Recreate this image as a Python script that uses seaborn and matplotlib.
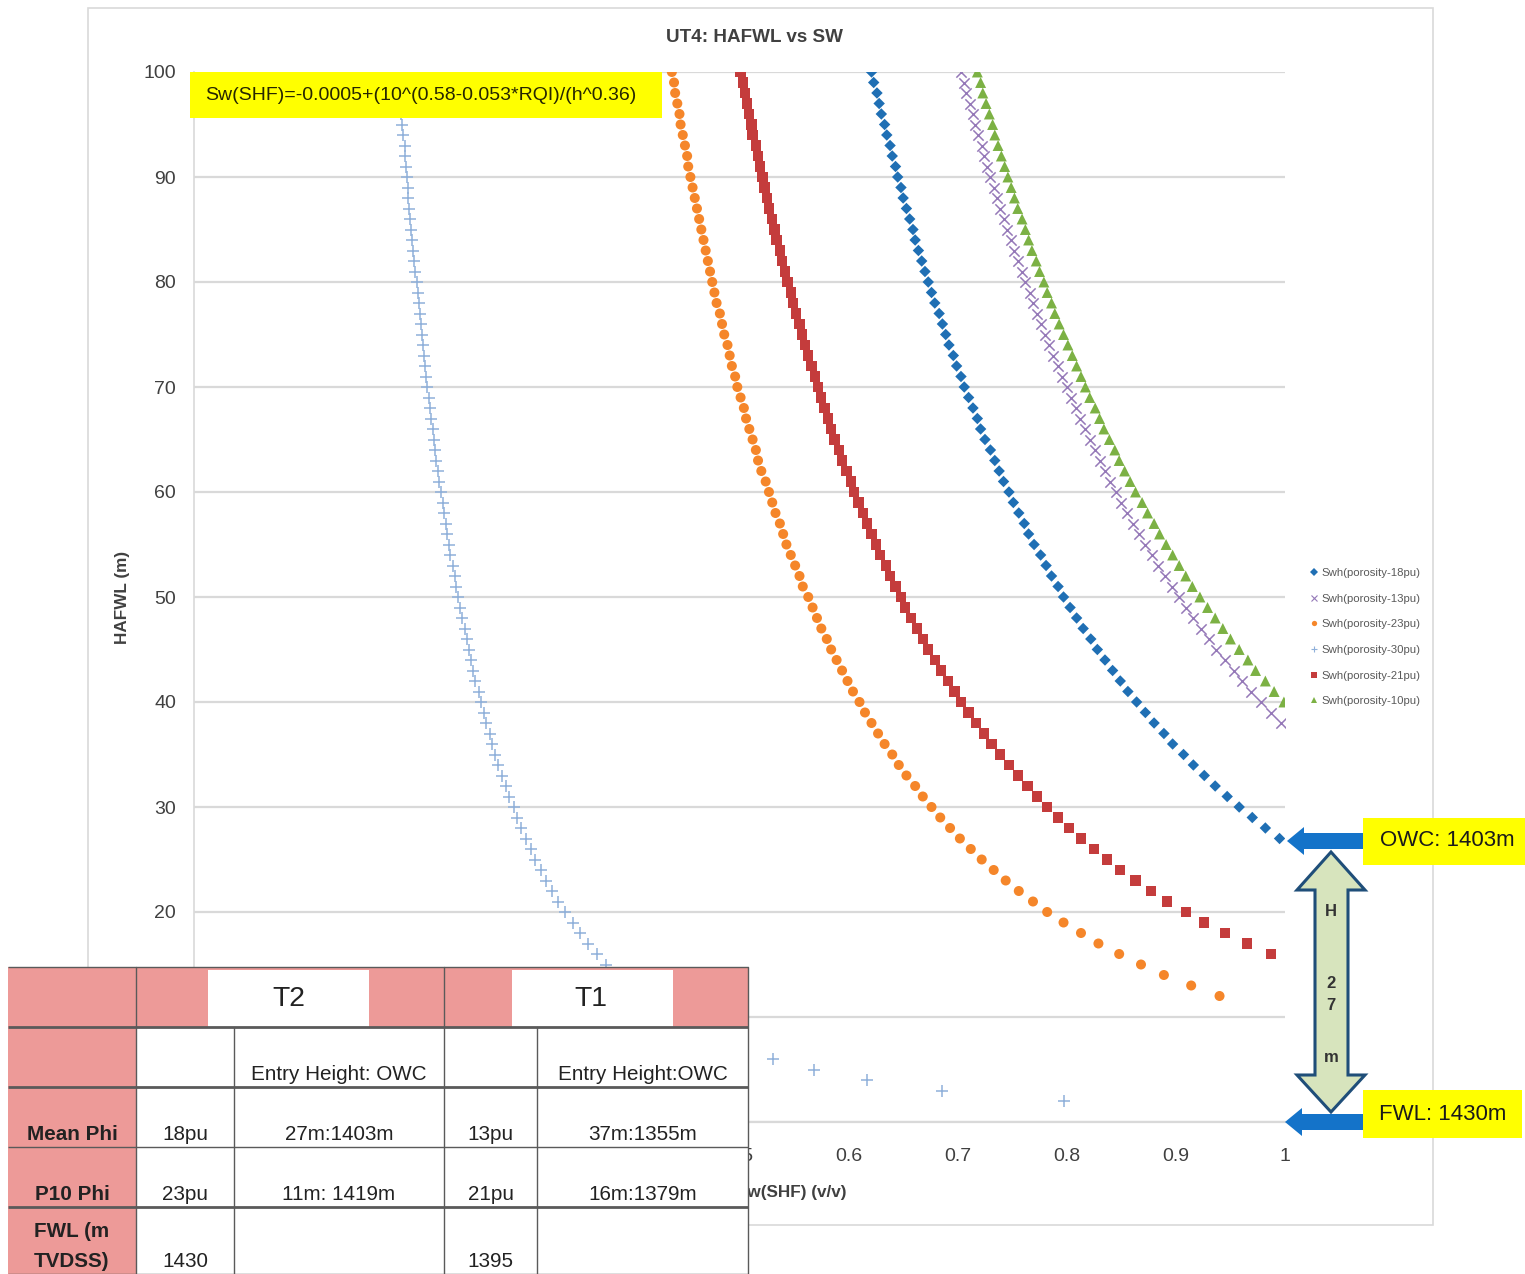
import matplotlib
matplotlib.use("Agg")
import matplotlib.pyplot as plt
import seaborn as sns
import pandas as pd
from matplotlib.patches import Rectangle, Polygon
from matplotlib.lines import Line2D
from matplotlib import font_manager

# ---------------- data ----------------
title = "UT4: HAFWL vs SW"
formula = "Sw(SHF)=-0.0005+(10^(0.58-0.053*RQI)/(h^0.36)"
x_label = "Sw(SHF) (v/v)"
y_label = "HAFWL (m)"
x_ticks = [0, 0.1, 0.2, 0.3, 0.4, 0.5, 0.6, 0.7, 0.8, 0.9, 1.0]
x_tick_labels = ["0", "0.1", "0.2", "0.3", "0.4", "0.5", "0.6", "0.7", "0.8", "0.9", "1"]
y_ticks = [0, 10, 20, 30, 40, 50, 60, 70, 80, 90, 100]
# "0" is hidden behind the table in the reference
y_tick_labels = ["", "10", "20", "30", "40", "50", "60", "70", "80", "90", "100"]

series_labels = ["Swh(porosity-18pu)", "Swh(porosity-13pu)", "Swh(porosity-23pu)",
                 "Swh(porosity-30pu)", "Swh(porosity-21pu)", "Swh(porosity-10pu)"]

# first visible height (m) of each series; heights step by 1 m up to 100 m
start_18pu, start_13pu, start_23pu, start_30pu, start_21pu, start_10pu = 27, 38, 12, 2, 16, 40

sw_18pu = [0.995, 0.982, 0.970, 0.958, 0.947, 0.936, 0.926, 0.916, 0.907, 0.897,
           0.889, 0.880, 0.872, 0.864, 0.856, 0.849, 0.842, 0.835, 0.828, 0.822,
           0.815, 0.809, 0.803, 0.797, 0.792, 0.786, 0.781, 0.776, 0.770, 0.765,
           0.761, 0.756, 0.751, 0.747, 0.742, 0.738, 0.734, 0.730, 0.725, 0.721,
           0.718, 0.714, 0.710, 0.706, 0.703, 0.699, 0.696, 0.692, 0.689, 0.686,
           0.683, 0.679, 0.676, 0.673, 0.670, 0.667, 0.664, 0.661, 0.659, 0.656,
           0.653, 0.650, 0.648, 0.645, 0.643, 0.640, 0.638, 0.635, 0.633, 0.630,
           0.628, 0.626, 0.623, 0.621]
sw_13pu = [0.996, 0.987, 0.978, 0.969, 0.961, 0.953, 0.945, 0.937, 0.930, 0.923,
           0.916, 0.909, 0.903, 0.896, 0.890, 0.884, 0.878, 0.872, 0.866, 0.861,
           0.855, 0.850, 0.845, 0.840, 0.835, 0.830, 0.826, 0.821, 0.817, 0.812,
           0.808, 0.804, 0.800, 0.796, 0.792, 0.787, 0.784, 0.780, 0.776, 0.773,
           0.769, 0.766, 0.762, 0.759, 0.755, 0.752, 0.749, 0.745, 0.742, 0.739,
           0.736, 0.733, 0.730, 0.727, 0.724, 0.722, 0.719, 0.716, 0.714, 0.711,
           0.708, 0.706, 0.703]
sw_10pu = [0.999, 0.990, 0.982, 0.973, 0.966, 0.958, 0.950, 0.943, 0.936, 0.929,
           0.922, 0.915, 0.909, 0.903, 0.897, 0.891, 0.885, 0.880, 0.874, 0.869,
           0.863, 0.858, 0.853, 0.848, 0.844, 0.839, 0.834, 0.830, 0.826, 0.821,
           0.817, 0.813, 0.809, 0.805, 0.801, 0.797, 0.793, 0.789, 0.786, 0.782,
           0.779, 0.775, 0.772, 0.768, 0.765, 0.762, 0.759, 0.755, 0.752, 0.749,
           0.746, 0.743, 0.740, 0.737, 0.734, 0.732, 0.729, 0.726, 0.723, 0.721,
           0.718]
sw_23pu = [0.940, 0.914, 0.889, 0.868, 0.848, 0.829, 0.813, 0.797, 0.782, 0.769,
           0.756, 0.744, 0.733, 0.722, 0.712, 0.702, 0.693, 0.684, 0.676, 0.668,
           0.661, 0.653, 0.646, 0.640, 0.633, 0.627, 0.621, 0.615, 0.610, 0.604,
           0.599, 0.594, 0.589, 0.584, 0.580, 0.575, 0.571, 0.567, 0.563, 0.558,
           0.555, 0.551, 0.547, 0.543, 0.540, 0.537, 0.533, 0.530, 0.527, 0.524,
           0.520, 0.517, 0.515, 0.512, 0.509, 0.506, 0.504, 0.501, 0.498, 0.496,
           0.493, 0.491, 0.489, 0.486, 0.484, 0.482, 0.479, 0.477, 0.475, 0.473,
           0.471, 0.469, 0.467, 0.465, 0.463, 0.461, 0.459, 0.457, 0.455, 0.453,
           0.452, 0.450, 0.448, 0.446, 0.445, 0.443, 0.441, 0.440, 0.438]
sw_21pu = [0.987, 0.965, 0.945, 0.926, 0.909, 0.892, 0.877, 0.863, 0.849, 0.837,
           0.825, 0.813, 0.802, 0.792, 0.782, 0.773, 0.764, 0.755, 0.747, 0.739,
           0.731, 0.724, 0.717, 0.710, 0.703, 0.697, 0.691, 0.685, 0.679, 0.673,
           0.668, 0.663, 0.657, 0.652, 0.648, 0.643, 0.638, 0.634, 0.629, 0.625,
           0.621, 0.617, 0.613, 0.609, 0.605, 0.602, 0.598, 0.594, 0.591, 0.587,
           0.584, 0.581, 0.578, 0.575, 0.572, 0.569, 0.566, 0.563, 0.560, 0.557,
           0.555, 0.552, 0.549, 0.547, 0.544, 0.542, 0.539, 0.537, 0.534, 0.532,
           0.530, 0.527, 0.525, 0.523, 0.521, 0.519, 0.517, 0.515, 0.512, 0.511,
           0.509, 0.507, 0.505, 0.503, 0.501]
sw_30pu = [0.797, 0.686, 0.617, 0.568, 0.531, 0.501, 0.477, 0.457, 0.439, 0.424,
           0.411, 0.399, 0.388, 0.378, 0.369, 0.361, 0.354, 0.347, 0.340, 0.334,
           0.328, 0.323, 0.318, 0.313, 0.309, 0.304, 0.300, 0.296, 0.293, 0.289,
           0.286, 0.282, 0.279, 0.276, 0.273, 0.271, 0.268, 0.266, 0.263, 0.261,
           0.258, 0.256, 0.254, 0.252, 0.250, 0.248, 0.246, 0.244, 0.242, 0.240,
           0.239, 0.237, 0.235, 0.234, 0.232, 0.231, 0.229, 0.228, 0.226, 0.225,
           0.224, 0.222, 0.221, 0.220, 0.219, 0.217, 0.216, 0.215, 0.214, 0.213,
           0.212, 0.211, 0.210, 0.209, 0.208, 0.207, 0.206, 0.205, 0.204, 0.203,
           0.202, 0.201, 0.200, 0.199, 0.198, 0.197, 0.196, 0.196, 0.195, 0.194,
           0.193, 0.193, 0.192, 0.191, 0.190, 0.190, 0.189, 0.188, 0.187]

# table content
table_groups = ["T2", "T1"]
table_subheader = ["", "", "Entry Height: OWC", "", "Entry Height:OWC"]
table_rows = [
    ["Mean Phi", "18pu", "27m:1403m", "13pu", "37m:1355m"],
    ["P10 Phi", "23pu", "11m: 1419m", "21pu", "16m:1379m"],
    ["FWL (m\nTVDSS)", "1430", "", "1395", ""],
]
owc_text = "OWC: 1403m"
fwl_text = "FWL: 1430m"
h_text = ["H", "2", "7", "m"]

# ---------------- styling ----------------
sns.set_theme(style="white")
names = {f.name for f in font_manager.fontManager.ttflist}
HAS_NARROW = "Liberation Sans Narrow" in names
NARROW = ["Liberation Sans Narrow", "Liberation Sans", "DejaVu Sans"] if HAS_NARROW else ["Liberation Sans", "DejaVu Sans"]
ARIAL = ["Liberation Sans", "DejaVu Sans"]
nf = 1.0 if HAS_NARROW else 0.85
plt.rcParams["font.family"] = NARROW

W, H = 1525, 1274
fig = plt.figure(figsize=(W / 100, H / 100), dpi=100)
fig.patch.set_facecolor("white")

X0, X1, Y0, Y1 = 194, 1285, 1122, 72
ax = fig.add_axes([X0 / W, 1 - Y0 / H, (X1 - X0) / W, (Y0 - Y1) / H])
ax.set_facecolor("white")

series = [
    (series_labels[0], start_18pu, sw_18pu, "D", "#1f6fb4", 34, True),
    (series_labels[1], start_13pu, sw_13pu, "x", "#9579b8", 55, False),
    (series_labels[2], start_23pu, sw_23pu, "o", "#f5862a", 52, True),
    (series_labels[3], start_30pu, sw_30pu, "+", "#8fb0da", 70, False),
    (series_labels[4], start_21pu, sw_21pu, "s", "#c43c3c", 55, True),
    (series_labels[5], start_10pu, sw_10pu, "^", "#7cb144", 62, True),
]

for label, start, vals, mk, col, size, filled in series:
    df = pd.DataFrame({"Sw": vals, "HAFWL": list(range(start, start + len(vals)))})
    kw = dict(data=df, x="Sw", y="HAFWL", marker=mk, color=col, s=size,
              ax=ax, legend=False, zorder=3, clip_on=True)
    if filled:
        kw["edgecolor"] = "none"
    else:
        kw["linewidth"] = 1.1
    sns.scatterplot(**kw)

ax.set_xlim(0, 1)
ax.set_ylim(0, 100)
ax.set_xticks(x_ticks)
ax.set_xticklabels(x_tick_labels)
ax.set_yticks(y_ticks)
ax.set_yticklabels(y_tick_labels)
ax.tick_params(axis="both", length=0, labelsize=16.5 * nf, labelcolor="#404040")
ax.tick_params(axis="x", pad=19)
ax.tick_params(axis="y", pad=13)
ax.set_xlabel("")
ax.set_ylabel("")
ax.yaxis.grid(True, color="#d9d9d9", lw=1.6)
ax.xaxis.grid(False)
ax.set_axisbelow(True)
for s in ["top", "right"]:
    ax.spines[s].set_visible(False)
ax.spines["left"].set_color("#d9d9d9")
ax.spines["left"].set_linewidth(1.2)
ax.spines["bottom"].set_color("#d9d9d9")
ax.spines["bottom"].set_linewidth(1.6)

# legend
handles = []
for label, start, vals, mk, col, size, filled in series:
    handles.append(Line2D([], [], marker=mk, color=col, linestyle="none",
                          markersize=3.8, markeredgewidth=0.8 if not filled else 0))
fig.legend(handles, series_labels, loc="upper left",
           bbox_to_anchor=(1311 / W, 1 - 568 / H), frameon=False,
           fontsize=9.6 * nf, labelspacing=1.38, handlelength=0.6, handletextpad=0.3,
           borderpad=0, borderaxespad=0, labelcolor="#595959")

# ---------------- overlay (pixel coordinates) ----------------
ov = fig.add_axes([0, 0, 1, 1], zorder=10)
ov.set_xlim(0, W)
ov.set_ylim(H, 0)
ov.axis("off")
ov.patch.set_alpha(0)

# chart border
ov.add_patch(Rectangle((88, 8), 1345, 1217, fill=False, ec="#d9d9d9", lw=1.2, zorder=0.2))

# title and axis labels
ov.text(755, 38, title, ha="center", va="center", fontsize=16 * nf,
        fontweight="bold", color="#404040")
ov.text(122, 597, y_label, ha="center", va="center", rotation=90,
        fontsize=14.5 * nf, fontweight="bold", color="#404040")
# x label: its start is hidden behind the table, as in the reference
ov.text(846, 1192, x_label, ha="right", va="center", zorder=0.5,
        fontsize=14.5 * nf, fontweight="bold", color="#404040")

# formula box
ov.add_patch(Rectangle((190, 72), 472, 46, fc="#ffff00", ec="none"))
ov.text(205, 96, formula, ha="left", va="center", fontsize=14,
        family=ARIAL, color="#262600")

# blue left arrows
def left_arrow(yc, tip_x):
    pts = [(tip_x, yc), (tip_x + 17, yc - 14), (tip_x + 17, yc - 8), (1363, yc - 8),
           (1363, yc + 8), (tip_x + 17, yc + 8), (tip_x + 17, yc + 14)]
    ov.add_patch(Polygon(pts, closed=True, fc="#1473c9", ec="none"))

left_arrow(841, 1287)
left_arrow(1122, 1285)

# yellow labels
ov.add_patch(Rectangle((1363, 818), 162, 47, fc="#ffff00", ec="none"))
ov.text(1447, 841, owc_text, ha="center", va="center", fontsize=16,
        family=ARIAL, color="#1a1a1a")
ov.add_patch(Rectangle((1363, 1090), 159, 48, fc="#ffff00", ec="none"))
ov.text(1443, 1114, fwl_text, ha="center", va="center", fontsize=16,
        family=ARIAL, color="#1a1a1a")

# double-headed arrow
cx = 1331
dpts = [(cx, 852), (1365, 890), (1348, 890), (1348, 1075), (1365, 1075), (cx, 1112),
        (1297, 1075), (1315, 1075), (1315, 890), (1297, 890)]
ov.add_patch(Polygon(dpts, closed=True, fc="#d7e4bd", ec="#1f4e79", lw=2.2))
for t, yy in zip(h_text, [912, 983, 1006, 1057]):
    ov.text(cx, yy, t, ha="center", va="center", fontsize=12, color="#333333",
            family=ARIAL, fontweight="bold")

# ---------------- table ----------------
pink = "#ed9a98"
col_edges = [8, 136, 234, 444, 537, 748]
row_edges = [967, 1027, 1087, 1147, 1207, 1274]
tx0, tx1 = col_edges[0], col_edges[-1]
ov.add_patch(Rectangle((tx0, row_edges[0]), tx1 - tx0, row_edges[-1] - row_edges[0],
                       fc="white", ec="none", zorder=1))
ov.add_patch(Rectangle((tx0, row_edges[0]), tx1 - tx0, row_edges[1] - row_edges[0],
                       fc=pink, ec="none", zorder=1))
ov.add_patch(Rectangle((tx0, row_edges[1]), col_edges[1] - tx0, row_edges[-1] - row_edges[1],
                       fc=pink, ec="none", zorder=1))
ov.add_patch(Rectangle((208, 970), 161, 57, fc="white", ec="none", zorder=1))
ov.add_patch(Rectangle((512, 970), 161, 57, fc="white", ec="none", zorder=1))

line_c = "#5a5a5a"
for i, yy in enumerate(row_edges):
    lw = 2.0 if i in (1, 2, 4) else 1.0
    ov.plot([tx0, tx1], [yy, yy], color=line_c, lw=lw, solid_capstyle="butt", zorder=2)
for xx in [col_edges[1], col_edges[3], col_edges[5]]:
    ov.plot([xx, xx], [row_edges[0], row_edges[-1]], color=line_c, lw=1.0, zorder=2)
for xx in [col_edges[2], col_edges[4]]:
    ov.plot([xx, xx], [row_edges[1], row_edges[-1]], color=line_c, lw=1.0, zorder=2)

tcol = "#222222"
ov.text(289, 999, table_groups[0], ha="center", va="center", fontsize=24 * nf, color=tcol)
ov.text(591, 999, table_groups[1], ha="center", va="center", fontsize=24 * nf, color=tcol)

centers = [(col_edges[i] + col_edges[i + 1]) / 2 for i in range(5)]
for j, t in enumerate(table_subheader):
    if t:
        ov.text(centers[j], 1080, t, ha="center", va="baseline", fontsize=17.5 * nf, color=tcol)
for r, row in enumerate(table_rows):
    base = row_edges[r + 3] - 7
    for j, t in enumerate(row):
        if not t:
            continue
        if j == 0:
            lines = t.split("\n")
            for k, ln in enumerate(lines):
                yy = base - (len(lines) - 1 - k) * 30
                ov.text(centers[0], yy, ln, ha="center", va="baseline",
                        fontsize=17.5 * nf, fontweight="bold", color=tcol)
        else:
            ov.text(centers[j], base, t, ha="center", va="baseline",
                    fontsize=17.5 * nf, color=tcol)

fig.savefig("out.png", dpi=100, facecolor="white")
